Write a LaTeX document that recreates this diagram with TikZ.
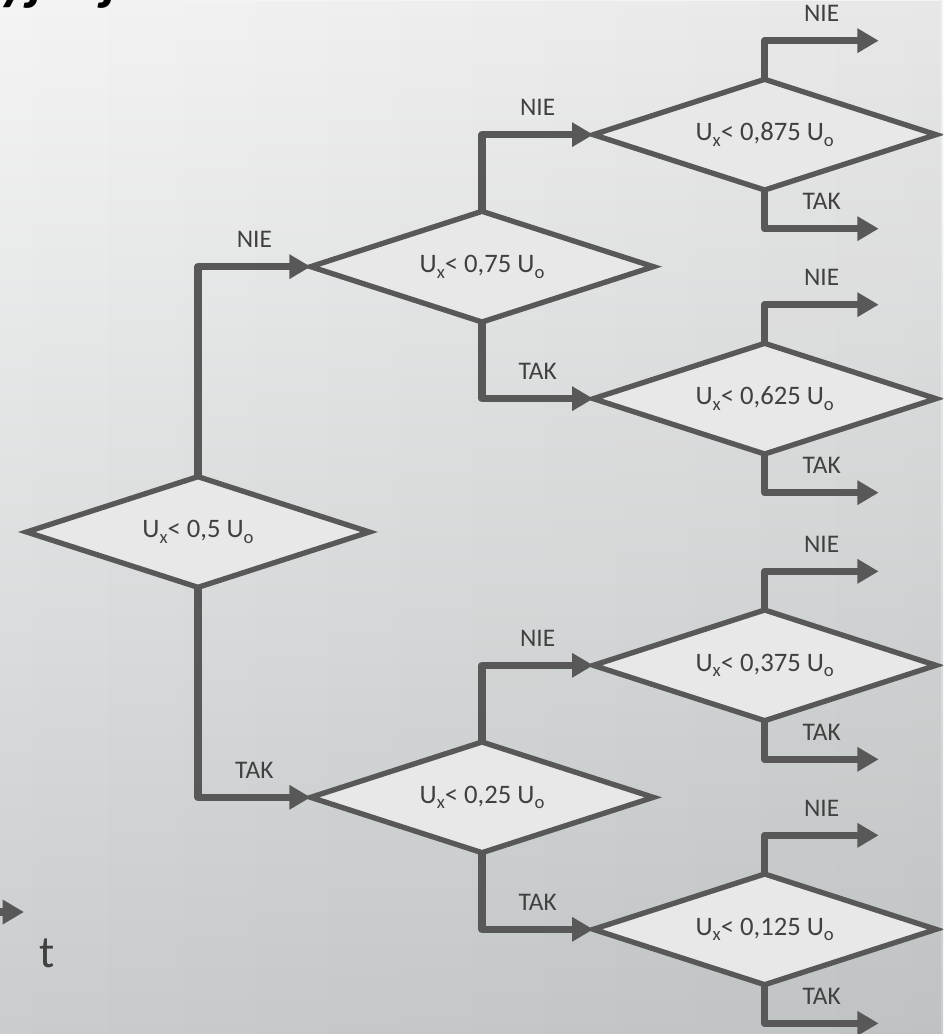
\documentclass[tikz,border=0pt]{standalone}
\usepackage{fontspec}
\setmainfont{Carlito}
\usetikzlibrary{shapes.geometric,arrows.meta,positioning,fadings}

\definecolor{linegray}{HTML}{585858}
\definecolor{textgray}{HTML}{404040}
\definecolor{boxgray}{HTML}{E8E8E8}
\definecolor{bgtop}{HTML}{F4F4F4}
\definecolor{bgmid}{HTML}{EBECEC}
\definecolor{bgbot}{HTML}{C9CDCE}

% lowered index, as in U_x
\newcommand{\lowidx}[1]{\raisebox{-0.45ex}{\fontsize{14}{14}\selectfont #1}}

\begin{document}
\begin{tikzpicture}[x=0.75pt,y=-0.75pt,on grid,
  decision/.style={diamond,aspect=3.1,draw=linegray,line width=4pt,fill=boxgray,
    minimum width=257pt,minimum height=83pt,inner sep=0pt,outer sep=0pt,
    text=textgray,font=\fontsize{20}{24}\selectfont},
  flow/.style={draw=linegray,line width=5.5pt,line join=round,
    -{Triangle[length=16pt,width=17.5pt]}},
  answer/.style={pos=0.75,anchor=south,yshift=11.5pt,inner sep=0pt,
    text=textgray,font=\fontsize{19}{23}\selectfont}]

 % background
 \useasboundingbox (0,0) rectangle (943,1034);
 \clip (0,0) rectangle (943,1034);
 \shade[top color=bgtop,middle color=bgmid,bottom color=bgbot]
   (0,0) rectangle (943,1034);
 \fill[black,opacity=0.05,path fading=west] (0,0) rectangle (943,1034);

 \node[anchor=base west,inner sep=0pt,
   font=\fontsize{44}{44}\selectfont\bfseries\itshape] (title) at (-24,-1) {cyjnej};

 % comparisons
 \node[decision] (d0) at (198,532) {U\lowidx{x}< 0,5 U\lowidx{o}};
 \node[decision] (d1) [above right=199pt and 213pt of d0] {U\lowidx{x}< 0,75 U\lowidx{o}};
 \node[decision] (d2) [below right=199pt and 213pt of d0] {U\lowidx{x}< 0,25 U\lowidx{o}};
 \node[decision] (d3) [above right=99pt and 212pt of d1] {U\lowidx{x}< 0,875 U\lowidx{o}};
 \node[decision] (d4) [below right=99pt and 212pt of d1] {U\lowidx{x}< 0,625 U\lowidx{o}};
 \node[decision] (d5) [above right=99pt and 212pt of d2] {U\lowidx{x}< 0,375 U\lowidx{o}};
 \node[decision] (d6) [below right=99pt and 212pt of d2] {U\lowidx{x}< 0,125 U\lowidx{o}};

 \draw[flow] (d0.north) |- node[answer] {NIE} (d1.west);
 \draw[flow] (d0.south) |- node[answer] {TAK} (d2.west);
 \draw[flow] (d1.north) |- node[answer] {NIE} (d3.west);
 \draw[flow] (d1.south) |- node[answer] {TAK} (d4.west);
 \draw[flow] (d2.north) |- node[answer] {NIE} (d5.west);
 \draw[flow] (d2.south) |- node[answer] {TAK} (d6.west);

 % last step: open outputs
 \foreach \n in {d3,d4,d5,d6} {
   \coordinate[above right=29pt and 85.5pt of \n.north] (\n-nie);
   \coordinate[below right=29pt and 85.5pt of \n.south] (\n-tak);
   \draw[flow] (\n.north) |- node[answer] {NIE} (\n-nie);
   \draw[flow] (\n.south) |- node[answer] {TAK} (\n-tak);
 }

 % time axis
 \coordinate (tstart) at (-80,912);
 \coordinate (tend) at (24,912);
 \draw[flow] (tstart) -- (tend);
 \node[text=textgray,font=\fontsize{34}{34}\selectfont] (tlabel) at (47,953) {t};
\end{tikzpicture}
\end{document}
